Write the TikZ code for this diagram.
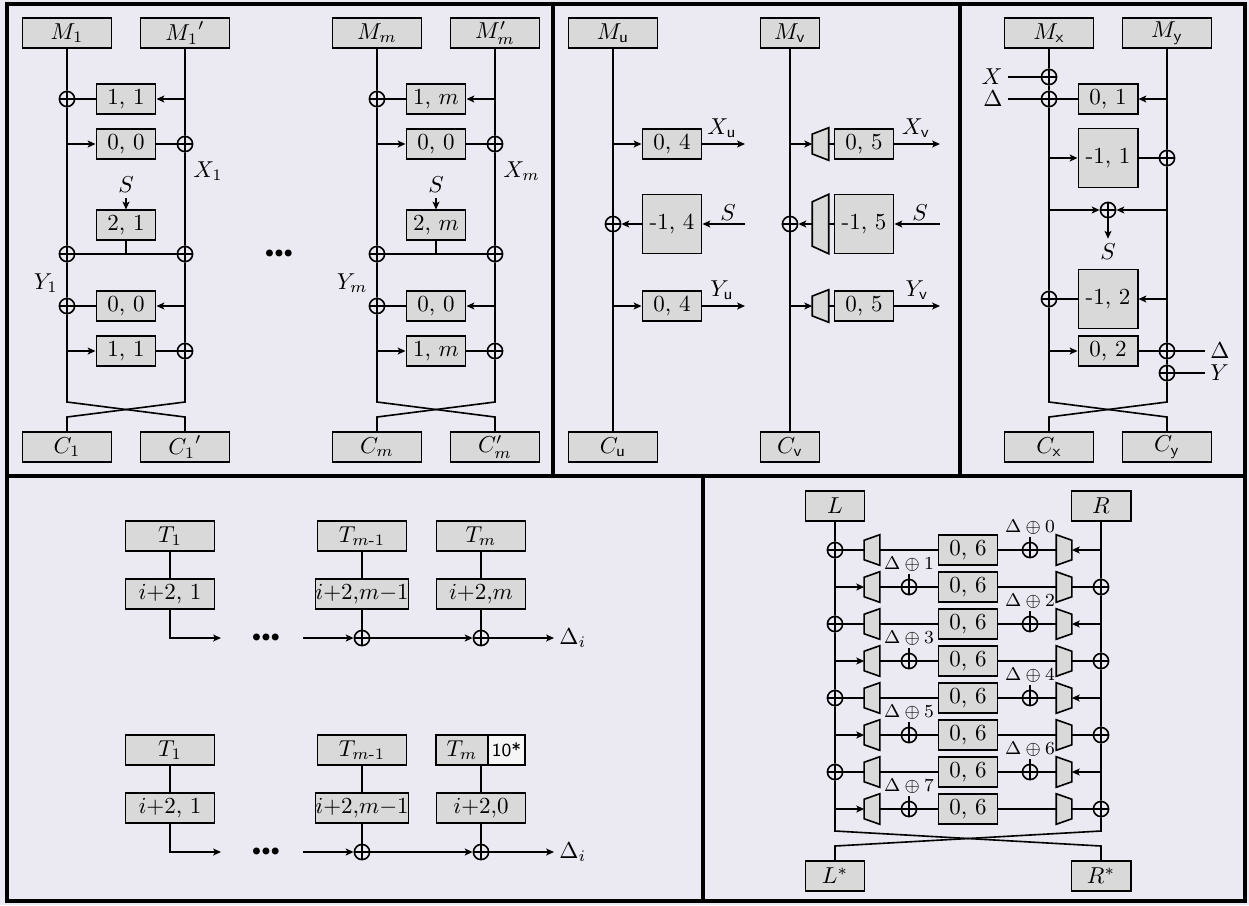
\documentclass[tikz,border=0pt]{standalone}
\usepackage{amsmath}
\usetikzlibrary{arrows.meta}
\definecolor{panelbg}{RGB}{235,233,241}
\definecolor{boxgray}{RGB}{217,217,217}
\definecolor{tagwhite}{RGB}{246,246,246}

\begin{document}
\begin{tikzpicture}[
  x=0.4347pt, y=-0.4347pt, line width=0.7pt,
  panel/.style={draw=black, line width=2pt},
  blk/.style={draw, fill=boxgray, minimum width=38.7pt, minimum height=12.8pt, inner sep=0pt},
  sblk/.style={blk, minimum width=25.8pt},
  tblk/.style={sblk, minimum height=25.6pt},
  xor/.style={circle, draw, minimum size=6.6pt, inner sep=0pt,
              path picture={\draw (path picture bounding box.north) -- (path picture bounding box.south)
                                  (path picture bounding box.west) -- (path picture bounding box.east);}},
  muxr/.style n args={3}{minimum width=#1, minimum height=#2, inner sep=0pt,
    append after command={\pgfextra{\draw[fill=boxgray] (\tikzlastnode.north east) -- (\tikzlastnode.south east)
      -- ([yshift=#3]\tikzlastnode.south west) -- ([yshift=-#3]\tikzlastnode.north west) -- cycle;}}},
  muxl/.style n args={3}{minimum width=#1, minimum height=#2, inner sep=0pt,
    append after command={\pgfextra{\draw[fill=boxgray] (\tikzlastnode.north west) -- (\tikzlastnode.south west)
      -- ([yshift=#3]\tikzlastnode.south east) -- ([yshift=-#3]\tikzlastnode.north east) -- cycle;}}},
  lbl/.style={inner sep=2pt},
  dots/.style={inner sep=1pt},
  arr/.style={-{Stealth[length=3.4pt, width=3pt, inset=0.8pt]}}
]
  \useasboundingbox (0,0) rectangle (1249,905);
  \fill[panelbg] (0,0) rectangle (1249,905);
  \draw[panel] (7,4) rectangle (553,476);
  \draw[panel] (553,4) rectangle (960,476);
  \draw[panel] (960,4) rectangle (1245,476);
  \draw[panel] (7,476) rectangle (703,901);
  \draw[panel] (703,476) rectangle (1245,901);

  % top left
  \foreach \o/\k/\n/\Mpr/\Cpr in {0/1/a/{{M_1}'}/{{C_1}'}, 310/m/b/{M'_m}/{C'_m}} {
    \node[blk]  (m\n)  at (67+\o,33)   {$M_\k$};
    \node[blk]  (mp\n) at (185+\o,33)  {$\Mpr$};
    \node[xor]  (o1\n) at (67+\o,99)   {};
    \node[sblk] (k1\n) at (126+\o,99)  {1, $\k$};
    \node[sblk] (k2\n) at (126+\o,144) {0, 0};
    \node[xor]  (o2\n) at (185+\o,144) {};
    \node[lbl, anchor=west] (x\n) at (188+\o,171) {$X_\k$};
    \node[lbl]  (s\n)  at (126+\o,185) {$S$};
    \node[sblk] (k3\n) at (126+\o,225) {2, $\k$};
    \node[xor]  (o3\n) at (67+\o,254)  {};
    \node[xor]  (o4\n) at (185+\o,254) {};
    \node[lbl, anchor=east] (y\n) at (63+\o,283) {$Y_\k$};
    \node[xor]  (o5\n) at (67+\o,306)  {};
    \node[sblk] (k4\n) at (126+\o,306) {0, 0};
    \node[sblk] (k5\n) at (126+\o,351) {1, $\k$};
    \node[xor]  (o6\n) at (185+\o,351) {};
    \node[blk]  (c\n)  at (67+\o,447)  {$C_\k$};
    \node[blk]  (cp\n) at (185+\o,447) {$\Cpr$};

    \draw (m\n) -- (o1\n) -- (o3\n) -- (o5\n) -- (67+\o,402) -- (185+\o,417) -- (cp\n);
    \draw (mp\n) -- (o2\n) -- (o4\n) -- (o6\n) -- (185+\o,402) -- (67+\o,417) -- (c\n);
    \draw[arr] (mp\n |- k1\n) -- (k1\n);
    \draw (k1\n) -- (o1\n);
    \draw[arr] (m\n |- k2\n) -- (k2\n);
    \draw (k2\n) -- (o2\n);
    \draw[arr] (s\n) -- (k3\n);
    \draw (k3\n) -- (k3\n |- o3\n);
    \draw (o3\n) -- (o4\n);
    \draw[arr] (mp\n |- k4\n) -- (k4\n);
    \draw (k4\n) -- (o5\n);
    \draw[arr] (m\n |- k5\n) -- (k5\n);
    \draw (k5\n) -- (o6\n);
  }
  \node[dots] (dotsa) at (279,254) {${\scriptstyle\bullet}{\scriptstyle\bullet}{\scriptstyle\bullet}$};

  % top middle
  \node[blk]  (mu)  at (613,33)  {$M_{\mathsf{u}}$};
  \node[sblk] (mv)  at (790,33)  {$M_{\mathsf{v}}$};
  \node[sblk] (bu1) at (672,144) {0, 4};
  \node[tblk] (bu2) at (672,224) {-1, 4};
  \node[sblk] (bu3) at (672,306) {0, 4};
  \node[xor]  (xu)  at (613,224) {};
  \node[muxr={6.5pt}{13.5pt}{2.8pt}] (qv1) at (820.5,144) {};
  \node[muxr={6.5pt}{25.2pt}{3.3pt}] (qv2) at (820.5,224) {};
  \node[muxr={6.5pt}{13.5pt}{2.8pt}] (qv3) at (820.5,306) {};
  \node[sblk] (bv1) at (864,144) {0, 5};
  \node[tblk] (bv2) at (864,224) {-1, 5};
  \node[sblk] (bv3) at (864,306) {0, 5};
  \node[xor]  (xv)  at (790,224) {};
  \node[blk]  (cu)  at (613,447) {$C_{\mathsf{u}}$};
  \node[sblk] (cv)  at (790,447) {$C_{\mathsf{v}}$};
  \coordinate (eu1) at (745,144);
  \coordinate (eu2) at (745,224);
  \coordinate (eu3) at (745,306);
  \coordinate (ev1) at (940,144);
  \coordinate (ev2) at (940,224);
  \coordinate (ev3) at (940,306);
  \node[lbl] (lxu) at (722,128) {$X_{\mathsf{u}}$};
  \node[lbl] (lsu) at (728,213) {$S$};
  \node[lbl] (lyu) at (722,290) {$Y_{\mathsf{u}}$};
  \node[lbl] (lxv) at (916,128) {$X_{\mathsf{v}}$};
  \node[lbl] (lsv) at (920,213) {$S$};
  \node[lbl] (lyv) at (917,290) {$Y_{\mathsf{v}}$};

  \draw (mu) -- (xu) -- (cu);
  \draw (mv) -- (xv) -- (cv);
  \draw[arr] (mu |- bu1) -- (bu1);
  \draw[arr] (bu1) -- (eu1);
  \draw[arr] (eu2) -- (bu2);
  \draw[arr] (bu2) -- (xu);
  \draw[arr] (mu |- bu3) -- (bu3);
  \draw[arr] (bu3) -- (eu3);
  \draw[arr] (mv |- qv1) -- (qv1);
  \draw (qv1) -- (bv1);
  \draw[arr] (bv1) -- (ev1);
  \draw[arr] (ev2) -- (bv2);
  \draw (bv2) -- (qv2);
  \draw[arr] (qv2) -- (xv);
  \draw[arr] (mv |- qv3) -- (qv3);
  \draw (qv3) -- (bv3);
  \draw[arr] (bv3) -- (ev3);

  % top right
  \node[blk]  (mx) at (1049,33)   {$M_{\mathsf{x}}$};
  \node[blk]  (my) at (1167,33)   {$M_{\mathsf{y}}$};
  \node[xor]  (oa) at (1049,77)   {};
  \node[xor]  (ob) at (1049,99)   {};
  \node[lbl, anchor=east] (lx)  at (1008,77) {$X$};
  \node[lbl, anchor=east] (ld1) at (1008,99) {$\Delta$};
  \node[sblk] (r1) at (1108,99)   {0, 1};
  \node[tblk] (r2) at (1108,158)  {-1, 1};
  \node[xor]  (oc) at (1167,158)  {};
  \node[xor]  (os) at (1108,210)  {};
  \node[lbl]  (ls) at (1108,252)  {$S$};
  \node[tblk] (r3) at (1108,299)  {-1, 2};
  \node[xor]  (od) at (1049,299)  {};
  \node[sblk] (r4) at (1108,351)  {0, 2};
  \node[xor]  (oe) at (1167,351)  {};
  \node[xor]  (of) at (1167,373)  {};
  \node[lbl, anchor=west] (ld2) at (1205,351) {$\Delta$};
  \node[lbl, anchor=west] (ly)  at (1205,373) {$Y$};
  \node[blk]  (cx) at (1049,447)  {$C_{\mathsf{x}}$};
  \node[blk]  (cy) at (1167,447)  {$C_{\mathsf{y}}$};

  \draw (mx) -- (oa) -- (ob) -- (od) -- (1049,402) -- (1167,417) -- (cy);
  \draw (my) -- (oc) -- (oe) -- (of) -- (1167,402) -- (1049,417) -- (cx);
  \draw (lx) -- (oa);
  \draw (ld1) -- (ob) -- (r1);
  \draw[arr] (my |- r1) -- (r1);
  \draw[arr] (mx |- r2) -- (r2);
  \draw (r2) -- (oc);
  \draw[arr] (mx |- os) -- (os);
  \draw[arr] (my |- os) -- (os);
  \draw[arr] (os) -- (ls);
  \draw[arr] (my |- r3) -- (r3);
  \draw (r3) -- (od);
  \draw[arr] (mx |- r4) -- (r4);
  \draw (r4) -- (oe) -- (ld2);
  \draw (of) -- (ly);

  % bottom left
  \foreach \o/\n/\last in {0/a/m, 214/b/0} {
    \node[blk] (ta\n) at (170,536+\o) {$T_1$};
    \node[blk] (tb\n) at (362,536+\o) {$T_{m\text{-}1}$};
    \node[blk] (ua\n) at (170,594+\o) {$i{+}2$, 1};
    \node[blk] (ub\n) at (362,594+\o) {$i{+}2{,}m{-}1$};
    \node[blk] (uc\n) at (481,594+\o) {$i{+}2{,}\last$};
    \node[xor] (pb\n) at (362,638+\o) {};
    \node[xor] (pc\n) at (481,638+\o) {};
    \node[dots] (dt\n) at (266,638+\o) {${\scriptstyle\bullet}{\scriptstyle\bullet}{\scriptstyle\bullet}$};
    \node[lbl, anchor=west] (dl\n) at (554,638+\o) {$\Delta_i$};
    \coordinate (ea\n) at (221,638+\o);
    \coordinate (eb\n) at (303,638+\o);
    \draw (ta\n) -- (ua\n);
    \draw (tb\n) -- (ub\n);
    \draw (ub\n) -- (pb\n);
    \draw (uc\n) -- (pc\n);
    \draw[arr] (ua\n) |- (ea\n);
    \draw[arr] (eb\n) -- (pb\n);
    \draw[arr] (pb\n) -- (pc\n);
    \draw[arr] (pc\n) -- (dl\n);
  }
  \node[blk] (tca) at (481,536) {$T_m$};
  \node[blk, minimum width=22.6pt] (tcb) at (462,750) {$T_m$};
  \node[blk, fill=tagwhite, minimum width=16.1pt, font=\sffamily\footnotesize] (tag) at (506.5,750) {10*};
  \draw (tca) -- (uca);
  \draw (ucb |- tcb.south) -- (ucb);

  % bottom right
  \node[sblk] (ll) at (835,506) {$L$};
  \node[sblk] (rr) at (1101,506) {$R$};
  \node[sblk] (ls) at (835,876) {$L^*$};
  \node[sblk] (rs) at (1101,876) {$R^*$};
  \foreach \k in {0,...,7} {
    \pgfmathsetmacro\yy{550+37*\k}
    \node[sblk] (h\k) at (968,\yy) {0, 6};
    \node[muxr={6.1pt}{12.6pt}{2.4pt}] (ql\k) at (872,\yy) {};
    \node[muxl={6.1pt}{12.6pt}{2.4pt}] (qr\k) at (1064,\yy) {};
    \ifodd\k
      \node[xor] (gr\k) at (1101,\yy) {};
      \node[xor] (gd\k) at (909,\yy) {};
      \node[font=\footnotesize, inner sep=1pt] (dd\k) at (909,\yy-23) {$\Delta\oplus\k$};
      \draw[arr] (ll |- ql\k) -- (ql\k);
      \draw (ql\k) -- (gd\k) -- (h\k) -- (qr\k) -- (gr\k);
    \else
      \node[xor] (gl\k) at (835,\yy) {};
      \node[xor] (gd\k) at (1030,\yy) {};
      \node[font=\footnotesize, inner sep=1pt] (dd\k) at (1030,\yy-23) {$\Delta\oplus\k$};
      \draw (gl\k) -- (ql\k) -- (h\k) -- (gd\k) -- (qr\k);
      \draw[arr] (rr |- qr\k) -- (qr\k);
    \fi
    \draw (dd\k) -- (gd\k);
  }
  \draw (ll) -- (gl0) -- (gl2) -- (gl4) -- (gl6) -- (835,831) -- (1101,846) -- (rs);
  \draw (rr) -- (gr1) -- (gr3) -- (gr5) -- (gr7) -- (1101,831) -- (835,846) -- (ls);
\end{tikzpicture}
\end{document}
